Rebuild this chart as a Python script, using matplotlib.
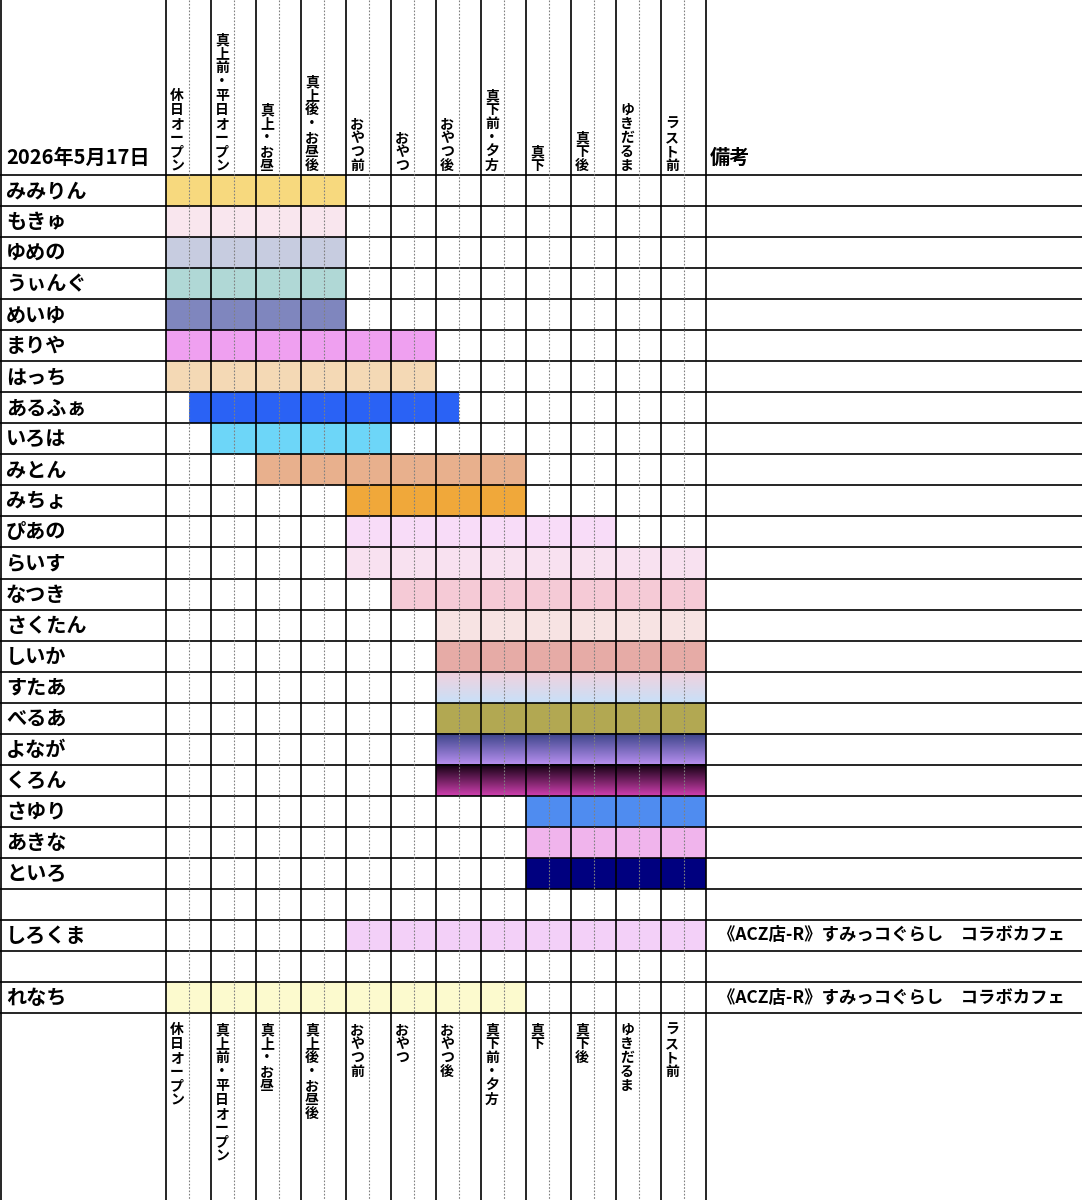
import matplotlib
matplotlib.use('Agg')
import matplotlib.pyplot as plt
import numpy as np

plt.rcParams['font.family'] = ['Noto Sans CJK JP', 'DejaVu Sans']

date_label = '2026年5月17日'
slots = ['休日オープン', '真上前・平日オープン', '真上・お昼', '真上後・お昼後', 'おやつ前', 'おやつ',
         'おやつ後', '真下前・夕方', '真下', '真下後', 'ゆきだるま', 'ラスト前']
names = ['みみりん', 'もきゅ', 'ゆめの', 'うぃんぐ', 'めいゆ', 'まりや', 'はっち', 'あるふぁ', 'いろは',
         'みとん', 'みちょ', 'ぴあの', 'らいす', 'なつき', 'さくたん', 'しいか', 'すたあ', 'べるあ',
         'よなが', 'くろん', 'さゆり', 'あきな', 'といろ', '', 'しろくま', '', 'れなち']
# start / end in half-slot units (0..24), None = empty row
starts = [0, 0, 0, 0, 0, 0, 0, 1, 2, 4, 8, 8, 8, 10, 12, 12, 12, 12, 12, 12, 16, 16, 16, None, 8, None, 0]
ends   = [8, 8, 8, 8, 8, 12, 12, 13, 10, 16, 16, 20, 24, 24, 24, 24, 24, 24, 24, 24, 24, 24, 24, None, 24, None, 16]
colors = ['#F7D97E', '#F9E6EE', '#C7CCE0', '#B0D8D6', '#7F86BE', '#EFA0F0', '#F4D9B5', '#2A62F5',
          '#6DD6F8', '#E8B08D', '#F0A83A', '#F8DCF8', '#F8E1F0', '#F5CAD6', '#F7E3E3', '#E6ABA6',
          ('#F2D0DC', '#C8E0F8'), '#B2A852', ('#3A4488', '#B890F0'), ('#100010', '#D040B0'),
          '#4F8CF0', '#F0B4EC', '#00007F', None, '#F3D0F8', None, '#FCFACE']
remarks = {'しろくま': '《ACZ店-R》すみっコぐらし　コラボカフェ', 'れなち': '《ACZ店-R》すみっコぐらし　コラボカフェ'}

W, H = 1082, 1200
x0, cw = 166, 45
top, rh = 175, 31.04
xr = x0 + cw * len(slots)

fig = plt.figure(figsize=(W / 100, H / 100), dpi=100)
ax = fig.add_axes([0, 0, 1, 1])
ax.set_xlim(0, W)
ax.set_ylim(H, 0)
ax.axis('off')

def hex2rgb(h):
    return np.array([int(h[i:i + 2], 16) for i in (1, 3, 5)]) / 255

for i, n in enumerate(names):
    y = top + i * rh
    if starts[i] is not None:
        xa = x0 + starts[i] * cw / 2
        xb = x0 + ends[i] * cw / 2
        c = colors[i]
        if isinstance(c, tuple):
            t = np.linspace(0, 1, 64)[:, None]
            img = hex2rgb(c[0]) * (1 - t) + hex2rgb(c[1]) * t
            ax.imshow(img[:, None, :], extent=[xa, xb, y + rh, y], aspect='auto', zorder=1)
        else:
            ax.add_patch(plt.Rectangle((xa, y), xb - xa, rh, color=c, zorder=1, lw=0))
    ax.text(6, y + rh / 2, n, fontsize=14.5, fontweight='bold', va='center', ha='left')
    if n in remarks:
        ax.text(xr + 12, y + rh / 2, remarks[n], fontsize=12.5, fontweight='bold', va='center', ha='left')

ax.set_xlim(0, W)
ax.set_ylim(H, 0)

ax.text(6, top - 18, date_label, fontsize=14.5, fontweight='bold', va='center', ha='left')
ax.text(xr + 4, top - 18, '備考', fontsize=14.5, fontweight='bold', va='center', ha='left')

bottom = top + len(names) * rh
for j, s in enumerate(slots):
    v = '\n'.join(s)
    xl = x0 + j * cw + 4
    ax.text(xl, top - 2, v, fontsize=10, fontweight='bold', va='bottom', ha='left', linespacing=1.0)
    ax.text(xl, bottom + 10, v, fontsize=10, fontweight='bold', va='top', ha='left', linespacing=1.0)

# grid
for i in range(len(names) + 1):
    ax.plot([0, W], [top + i * rh] * 2, color='black', lw=1.2, zorder=3)
for j in range(len(slots) + 1):
    ax.plot([x0 + j * cw] * 2, [0, H], color='black', lw=1.2, zorder=3)
    if j < len(slots):
        ax.plot([x0 + j * cw + cw / 2] * 2, [0, H], color='gray', lw=0.8, ls=(0, (1.5, 1.5)), zorder=3)
ax.plot([1, 1], [0, H], color='black', lw=1.2, zorder=3)

fig.savefig('out.png', dpi=100)
